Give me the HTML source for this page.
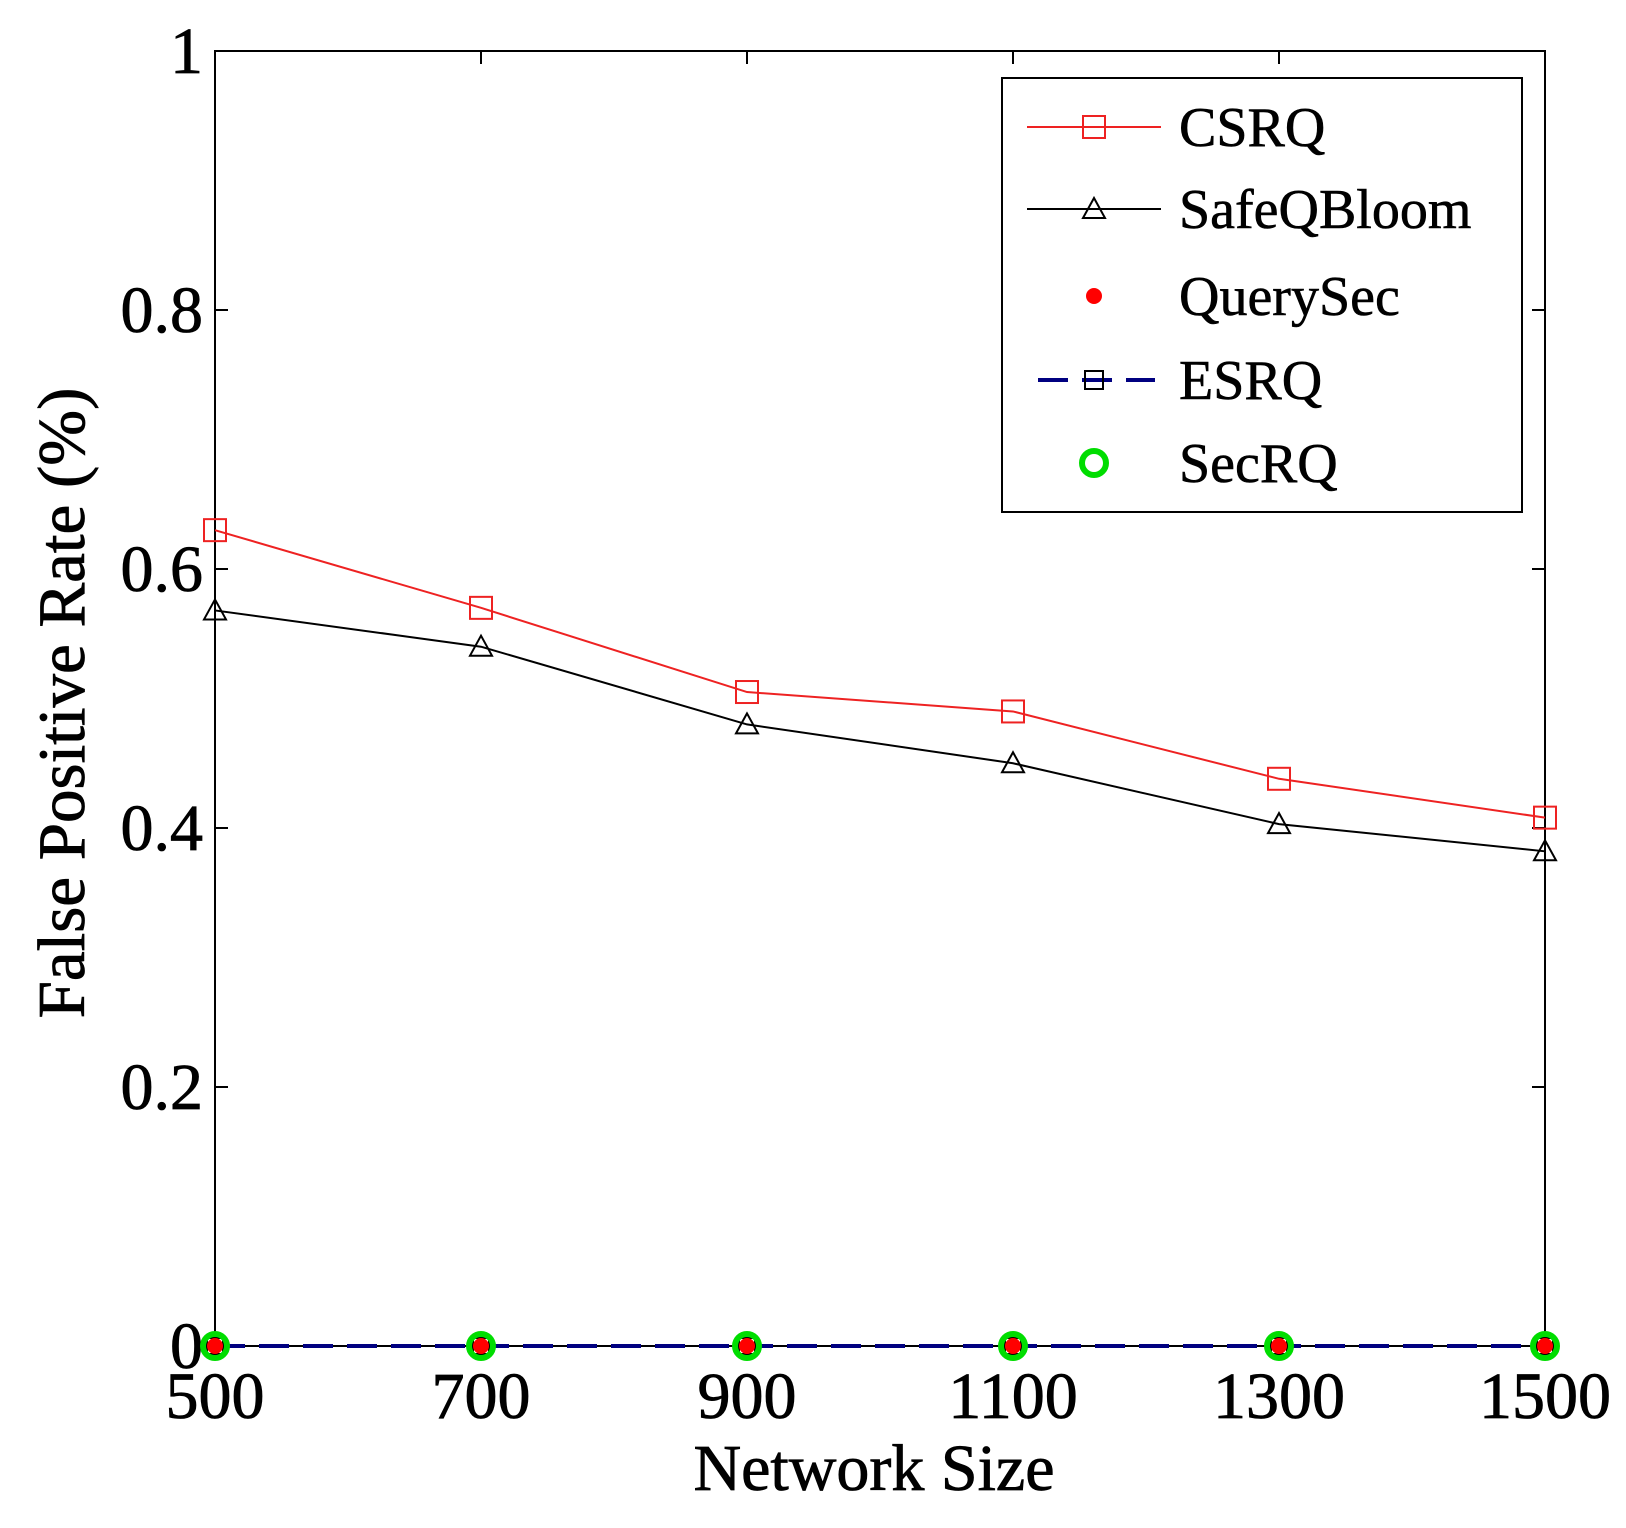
<!DOCTYPE html>
<html><head><meta charset="utf-8"><style>
html,body{margin:0;padding:0;background:#fff;}
svg{display:block;font-family:"Liberation Serif",serif;}
</style></head><body>
<svg id="chart" width="1626" height="1528" viewBox="0 0 1626 1528" xmlns="http://www.w3.org/2000/svg">
<g id="plot"></g>
</svg>
<script>
const categories=[500,700,900,1100,1300,1500];
const csrq=[0.63,0.57,0.505,0.49,0.438,0.408];
const safeq=[0.568,0.54,0.48,0.45,0.403,0.382];
const querysec=[0,0,0,0,0,0];
const esrq=[0,0,0,0,0,0];
const secrq=[0,0,0,0,0,0];
const yTicks=[0,0.2,0.4,0.6,0.8,1];
const yTickLabels=["0","0.2","0.4","0.6","0.8","1"];

const L=215,R=1545,T=51,B=1346;
const NS="http://www.w3.org/2000/svg";
const g=document.getElementById('plot');
const xs=v=>L+(v-500)/(1000)*(R-L);
const ys=v=>B-v*(B-T);
function mk(tag,attrs,parent){const e=document.createElementNS(NS,tag);for(const k in attrs)e.setAttribute(k,attrs[k]);(parent||g).appendChild(e);return e;}

const box=mk('rect',{x:L,y:T,width:R-L,height:B-T,fill:'none',stroke:'#000','stroke-width':2});



yTicks.forEach((t,i)=>{
  const y=ys(t);
  mk('line',{x1:L,x2:L+13,y1:y,y2:y,stroke:'#000','stroke-width':2});
  mk('line',{x1:R,x2:R-13,y1:y,y2:y,stroke:'#000','stroke-width':2});
  const tx=mk('text',{x:L-12,y:y+22,'text-anchor':'end','font-size':66,'stroke':'#000','stroke-width':0.8});
  tx.textContent=yTickLabels[i];
  
  
});
categories.forEach(c=>{
  const x=xs(c);
  mk('line',{x1:x,x2:x,y1:B,y2:B-13,stroke:'#000','stroke-width':2});
  mk('line',{x1:x,x2:x,y1:T,y2:T+13,stroke:'#000','stroke-width':2});
  const tx=mk('text',{x:x,y:1418,'text-anchor':'middle','font-size':66,'stroke':'#000','stroke-width':0.8});
  tx.textContent=String(c);
  
  
});
const xt=mk('text',{x:874,y:1490,'text-anchor':'middle','font-size':66,'stroke':'#000','stroke-width':0.8});
xt.textContent='Network Size';


const yt=mk('text',{x:0,y:0,'text-anchor':'middle','font-size':67,'stroke':'#000','stroke-width':0.8,transform:'translate(84,703) rotate(-90)'});
yt.textContent='False Positive Rate (%)';



function sq(x,y,c,s,p){mk('rect',{x:x-s,y:y-s,width:2*s,height:2*s,fill:'none',stroke:c,'stroke-width':2},p);}
function tri(x,y,c,p){mk('polygon',{points:`${x},${y-11} ${x-11},${y+9} ${x+11},${y+9}`,fill:'none',stroke:c,'stroke-width':2},p);}
function circ(x,y,p){mk('circle',{cx:x,cy:y,r:12,fill:'none',stroke:'#00dd00','stroke-width':6},p);}
function star(x,y,p){mk('circle',{cx:x,cy:y,r:8,fill:'#ff0000'},p);}
function path(arr){return arr.map((v,i)=>(i?'L':'M')+xs(categories[i])+','+ys(v)).join(' ');}

const sC=mk('g',{});
mk('path',{d:path(csrq),fill:'none',stroke:'#ee2222','stroke-width':2},sC);
csrq.forEach((v,i)=>sq(xs(categories[i]),ys(v),'#ee2222',11,sC));
const sS=mk('g',{});
mk('path',{d:path(safeq),fill:'none',stroke:'#000','stroke-width':2},sS);
safeq.forEach((v,i)=>tri(xs(categories[i]),ys(v),'#000',sS));
const sE=mk('g',{});
mk('path',{d:path(esrq),fill:'none',stroke:'#000080','stroke-width':4,'stroke-dasharray':'30 14'},sE);
const sSec=mk('g',{});
secrq.forEach((v,i)=>circ(xs(categories[i]),ys(v),sSec));
const sQ=mk('g',{});
querysec.forEach((v,i)=>star(xs(categories[i]),ys(v),sQ));
esrq.forEach((v,i)=>sq(xs(categories[i]),ys(v),'#000',8,sE));

const lg=mk('g',{});
mk('rect',{x:1002,y:78,width:520,height:434,fill:'#fff',stroke:'#000','stroke-width':2},lg);
const names=['CSRQ','SafeQBloom','QuerySec','ESRQ','SecRQ'];
const ly=[127,209,296,380,463];
names.forEach((n,i)=>{
  const e=mk('g',{},lg);
  
  
  const y=ly[i];
  if(i===0){mk('line',{x1:1027,x2:1161,y1:y,y2:y,stroke:'#ee2222','stroke-width':2},e);sq(1094,y,'#ee2222',11,e);}
  if(i===1){mk('line',{x1:1027,x2:1161,y1:y,y2:y,stroke:'#000','stroke-width':2},e);tri(1094,y,'#000',e);}
  if(i===2){star(1094,y,e);}
  if(i===3){mk('line',{x1:1038,x2:1155,y1:y,y2:y,stroke:'#000080','stroke-width':4,'stroke-dasharray':'30 14'},e);sq(1094,y,'#000',9,e);}
  if(i===4){circ(1094,y,e);}
  const t=mk('text',{x:1179,y:y+19,'font-size':56,'stroke':'#000','stroke-width':0.6},e);t.textContent=n;
});
</script>
</body></html>
